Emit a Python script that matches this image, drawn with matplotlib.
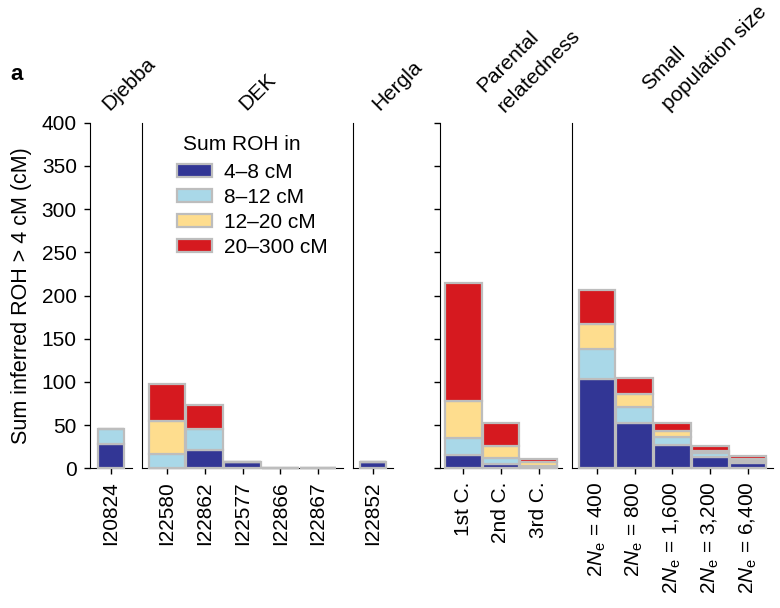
import matplotlib
matplotlib.use("Agg")
import matplotlib.pyplot as plt
from matplotlib.patches import Patch

plt.rcParams['font.family'] = ['Liberation Sans', 'DejaVu Sans']
plt.rcParams['mathtext.fontset'] = 'custom'
plt.rcParams['mathtext.rm'] = 'Liberation Sans'
plt.rcParams['mathtext.it'] = 'Liberation Sans:italic'

# panels and the bars that belong to each of them
groups = ['Djebba', 'DEK', 'Hergla', 'Parental\nrelatedness', 'Small\npopulation size']
samples = ['I20824',
           'I22580', 'I22862', 'I22577', 'I22866', 'I22867',
           'I22852',
           '1st C.', '2nd C.', '3rd C.',
           '2$N_\\mathrm{e}$ = 400', '2$N_\\mathrm{e}$ = 800', '2$N_\\mathrm{e}$ = 1,600',
           '2$N_\\mathrm{e}$ = 3,200', '2$N_\\mathrm{e}$ = 6,400']
panel_of = [0, 1, 1, 1, 1, 1, 2, 3, 3, 3, 4, 4, 4, 4, 4]

# sum of ROH (cM) per length class
roh_4_8 = [28, 0, 21, 7, 0, 0, 7, 15, 5, 1, 103, 53, 27, 13, 6]
roh_8_12 = [17, 17, 25, 0, 0, 0, 0, 20, 7, 2, 35, 18, 9, 5, 3]
roh_12_20 = [0, 38, 0, 0, 0, 0, 0, 43, 14, 4, 29, 15, 7, 2, 2]
roh_20_300 = [0, 43, 27, 0, 0, 0, 0, 136, 26, 4, 39, 19, 9, 6, 3]

classes = ['4–8 cM', '8–12 cM', '12–20 cM', '20–300 cM']
colors = ['#323695', '#a9d8e8', '#fedd8e', '#d6191f']
edge = '#bdbdbd'

fig = plt.figure(figsize=(7.8, 6.08), dpi=100)
W, H = 780.0, 608.0
top_px, bot_px = 122.7, 468.3
bottom, height = 1 - bot_px / H, (bot_px - top_px) / H
# pixel extents of the five panels (left, right)
extents = [(90, 132), (142, 343), (353, 393), (440, 562), (572, 773)]
# where each heading's last line starts (pixels)
head_xy = [(109, 111), (246, 111), (379, 111), (498, 106), (662, 104)]

axes = []
for p, (x0, x1) in enumerate(extents):
    ax = fig.add_axes([x0 / W, bottom, (x1 - x0) / W, height])
    idx = [i for i, g in enumerate(panel_of) if g == p]
    n = len(idx)
    if n == 1:
        width = 0.95
        ax.set_xlim(-0.75, 0.75)
    else:
        width = 0.97
        pad = ((x1 - x0) / 37.8 - n) / 2 + 0.5
        ax.set_xlim(-pad, n - 1 + pad)
    pos = list(range(n))
    base = [0] * n
    for series, c in zip([roh_4_8, roh_8_12, roh_12_20, roh_20_300], colors):
        vals = [series[i] for i in idx]
        ax.bar(pos, vals, width=width, bottom=base, color=c, edgecolor=edge,
               linewidth=1.6, clip_on=False, zorder=3)
        base = [b + v for b, v in zip(base, vals)]
    ax.set_ylim(0, 400)
    ax.set_xticks(pos)
    ax.set_xticklabels([samples[i] for i in idx], rotation=90, fontsize=15)
    ax.spines['top'].set_visible(False)
    ax.spines['right'].set_visible(False)
    ax.tick_params(axis='x', length=4.5, width=1, pad=5)
    if p == 0:
        ax.set_yticks(range(0, 401, 50))
        ax.tick_params(axis='y', length=4.5, width=1, labelsize=15, pad=5)
        ax.set_ylabel('Sum inferred ROH > 4 cM (cM)', fontsize=15.5, labelpad=7)
    elif p == 3:
        ax.set_yticks(range(0, 401, 50))
        ax.tick_params(axis='y', length=4.5, width=1, labelleft=False)
    else:
        ax.set_yticks([])
    hx, hy = head_xy[p]
    fig.text(hx / W, 1 - hy / H, groups[p], rotation=45, rotation_mode='anchor',
             ha='left', va='baseline', fontsize=15, linespacing=1.65)
    axes.append(ax)

fig.text(183 / W, 1 - 145 / H, 'Sum ROH in', fontsize=15, ha='left', va='center')
handles = [Patch(facecolor=c, edgecolor=edge, linewidth=1.6) for c in colors]
leg = axes[1].legend(handles, classes, loc='upper left',
                     bbox_to_anchor=(0.08, 0.939), frameon=False, fontsize=15,
                     handlelength=1.7, handleheight=0.6,
                     labelspacing=0.29, handletextpad=0.55)

fig.text(10 / W, 1 - 75 / H, 'a', fontsize=16, fontweight='bold', va='center')

fig.savefig('out.png', dpi=100)
